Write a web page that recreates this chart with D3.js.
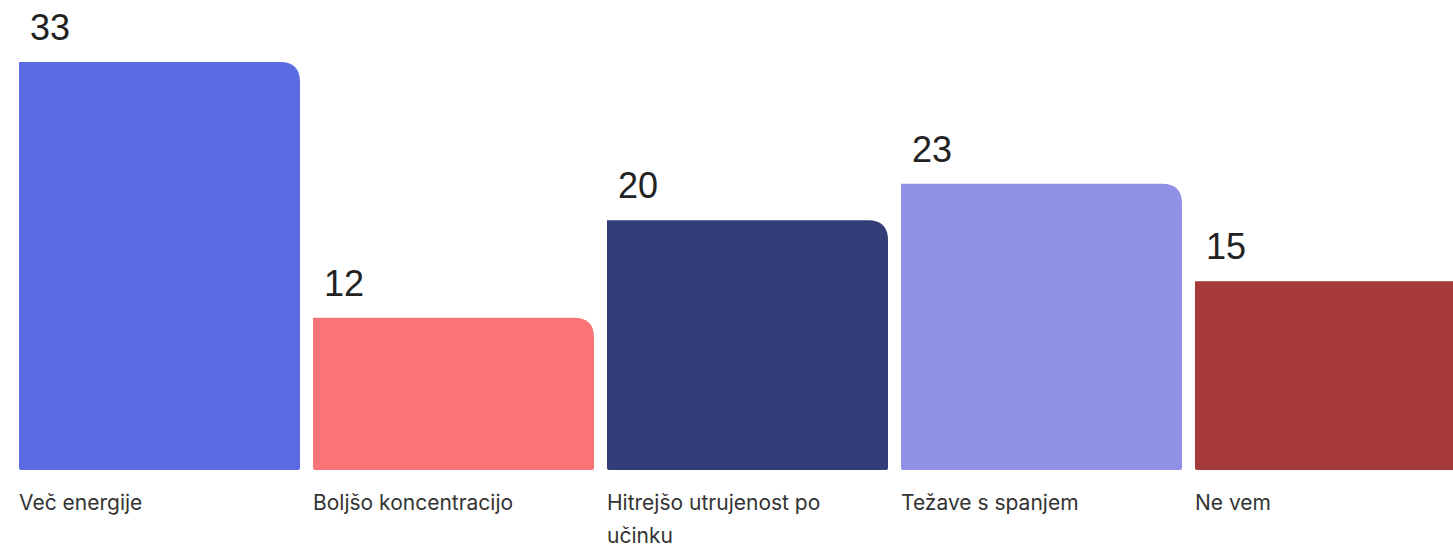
<!DOCTYPE html>
<html>
<head>
<meta charset="utf-8">
<script src="https://cdn.jsdelivr.net/npm/d3@7"></script>
<style>
  html, body { margin: 0; padding: 0; background: #fff; overflow: hidden; }
  svg { display: block; }
</style>
</head>
<body>
<div id="chart"></div>
<script>
// Data
const categories = ['Več energije', 'Boljšo koncentracijo', 'Hitrejšo utrujenost po učinku', 'Težave s spanjem', 'Ne vem'];
const values = [33, 12, 20, 23, 15];
const colors = ['#5b6be2', '#fb7475', '#333d78', '#9090e6', '#a63a3b'];

const width = 1453;
const height = 549;
const baseY = 470;

const svg = d3.select('#chart')
    .append('svg')
    .attr('width', width)
    .attr('height', height);

// x: band scale, last bar runs off the right edge like the original
const x = d3.scaleBand()
    .domain(categories)
    .range([19, 19 + 294 * categories.length - 13])
    .paddingInner(13 / 294)
    .paddingOuter(0);

const y = d3.scaleLinear()
    .domain([0, d3.max(values)])
    .range([464, 62]);

// bar path with rounded top-right corner and tiny bottom rounding
function barPath(x0, y0, w, h) {
    const r = Math.min(20, h);
    const rb = 2;
    return `M${x0},${y0}` +
        `H${x0 + w - r}` +
        `Q${x0 + w},${y0} ${x0 + w},${y0 + r}` +
        `V${y0 + h - rb}` +
        `Q${x0 + w},${y0 + h} ${x0 + w - rb},${y0 + h}` +
        `H${x0 + rb}` +
        `Q${x0},${y0 + h} ${x0},${y0 + h - rb}` +
        `Z`;
}

const data = categories.map((c, i) => ({ cat: c, value: values[i], color: colors[i] }));

const g = svg.append('g');

g.selectAll('.bar')
    .data(data)
    .enter()
    .append('path')
    .attr('class', 'bar')
    .attr('d', d => barPath(x(d.cat), y(d.value), x.bandwidth(), baseY - y(d.value)))
    .attr('fill', d => d.color);

// value labels
g.selectAll('.value')
    .data(data)
    .enter()
    .append('text')
    .attr('class', 'value')
    .attr('x', d => x(d.cat) + 11)
    .attr('y', d => y(d.value) - 22)
    .attr('font-family', '"Liberation Sans", Arial, sans-serif')
    .attr('font-size', '36px')
    .attr('fill', '#222')
    .text(d => d.value);

// category labels, wrapped to bar width
const labels = g.selectAll('.cat')
    .data(data)
    .enter()
    .append('text')
    .attr('class', 'cat')
    .attr('x', d => x(d.cat))
    .attr('y', 510)
    .attr('font-family', 'Inter, "Noto Sans", sans-serif')
    .attr('font-size', '21px')
    .attr('letter-spacing', '0px')
    .attr('fill', '#333');

labels.each(function(d) {
    const text = d3.select(this);
    const words = d.cat.split(' ');
    const maxW = x.bandwidth() - 30;
    let line = [];
    let tspan = text.append('tspan').attr('x', x(d.cat)).attr('dy', 0);
    words.forEach(w => {
        line.push(w);
        tspan.text(line.join(' '));
        if (tspan.node().getComputedTextLength() > maxW && line.length > 1) {
            line.pop();
            tspan.text(line.join(' '));
            line = [w];
            tspan = text.append('tspan').attr('x', x(d.cat)).attr('dy', 33).text(w);
        }
    });
});
</script>
</body>
</html>
